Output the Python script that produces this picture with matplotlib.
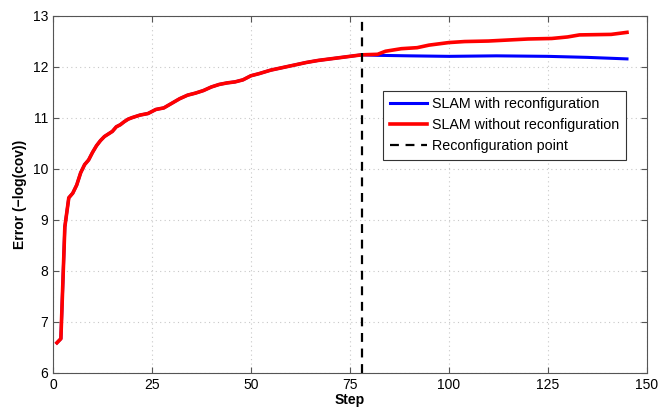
import numpy as np
import matplotlib.pyplot as plt

# error curve before the reconfiguration point (both runs identical)
shared_steps = [1, 2, 3, 4, 5, 6, 7, 8, 9, 10, 11, 12, 13, 14, 15, 16, 17, 18, 19, 20,
                22, 24, 26, 28, 30, 32, 34, 36, 38, 40, 42, 44, 46, 48, 50, 52, 55, 58,
                61, 64, 67, 70, 73, 76, 78]
shared_err = [6.59, 6.67, 8.86, 9.43, 9.52, 9.68, 9.92, 10.08, 10.17, 10.32, 10.45, 10.55,
              10.63, 10.68, 10.73, 10.82, 10.86, 10.92, 10.97, 11.00, 11.05, 11.08, 11.16,
              11.19, 11.28, 11.37, 11.44, 11.48, 11.53, 11.60, 11.65, 11.68, 11.70, 11.74,
              11.82, 11.86, 11.93, 11.98, 12.03, 12.08, 12.12, 12.15, 12.18, 12.21, 12.23]

# after reconfiguration
with_steps = [82, 90, 100, 112, 125, 135, 145]
with_err = [12.22, 12.21, 12.20, 12.21, 12.20, 12.18, 12.15]

without_steps = [82, 84, 88, 92, 95, 100, 104, 110, 115, 120, 126, 130, 133, 141, 145]
without_err = [12.24, 12.30, 12.35, 12.37, 12.42, 12.47, 12.49, 12.50, 12.52, 12.54,
               12.55, 12.58, 12.62, 12.63, 12.67]

reconf_step = 78

plt.rcParams['font.family'] = ['Liberation Sans', 'DejaVu Sans']
plt.rcParams['font.size'] = 10

fig, ax = plt.subplots(figsize=(6.62, 4.08), dpi=100)
fig.subplots_adjust(left=0.08, right=0.977, top=0.962, bottom=0.086)

ax.plot(shared_steps + with_steps, shared_err + with_err, color='#0000ff', lw=2.2,
        label='SLAM with reconfiguration')
ax.plot(shared_steps + without_steps, shared_err + without_err, color='#ff0000', lw=2.6,
        label='SLAM without reconfiguration')
ax.axvline(reconf_step, color='black', lw=1.6, ls=(0, (4, 3)), label='Reconfiguration point')

ax.set_xlim(0, 150)
ax.set_ylim(6, 13)
ax.set_xticks(np.arange(0, 151, 25))
ax.set_yticks(np.arange(6, 14, 1))
ax.grid(True, ls=(0, (1, 3)), color='#c8c8c8', lw=0.8)
ax.tick_params(direction='in', top=True, right=True, length=4, color='#555555')
for s in ax.spines.values():
    s.set_color('#555555')

ax.set_xlabel('Step', fontweight='bold', labelpad=1)
ax.set_ylabel('Error (\u2212log(cov))', fontweight='bold', labelpad=4)

leg = ax.legend(loc='upper left', bbox_to_anchor=(0.556, 0.79), borderaxespad=0,
                fancybox=False, framealpha=1, edgecolor='#333333', handlelength=2.6,
                borderpad=0.45, labelspacing=0.5, handletextpad=0.4, fontsize=10.3)
leg.get_frame().set_linewidth(0.8)

plt.savefig('out.png', dpi=100)
